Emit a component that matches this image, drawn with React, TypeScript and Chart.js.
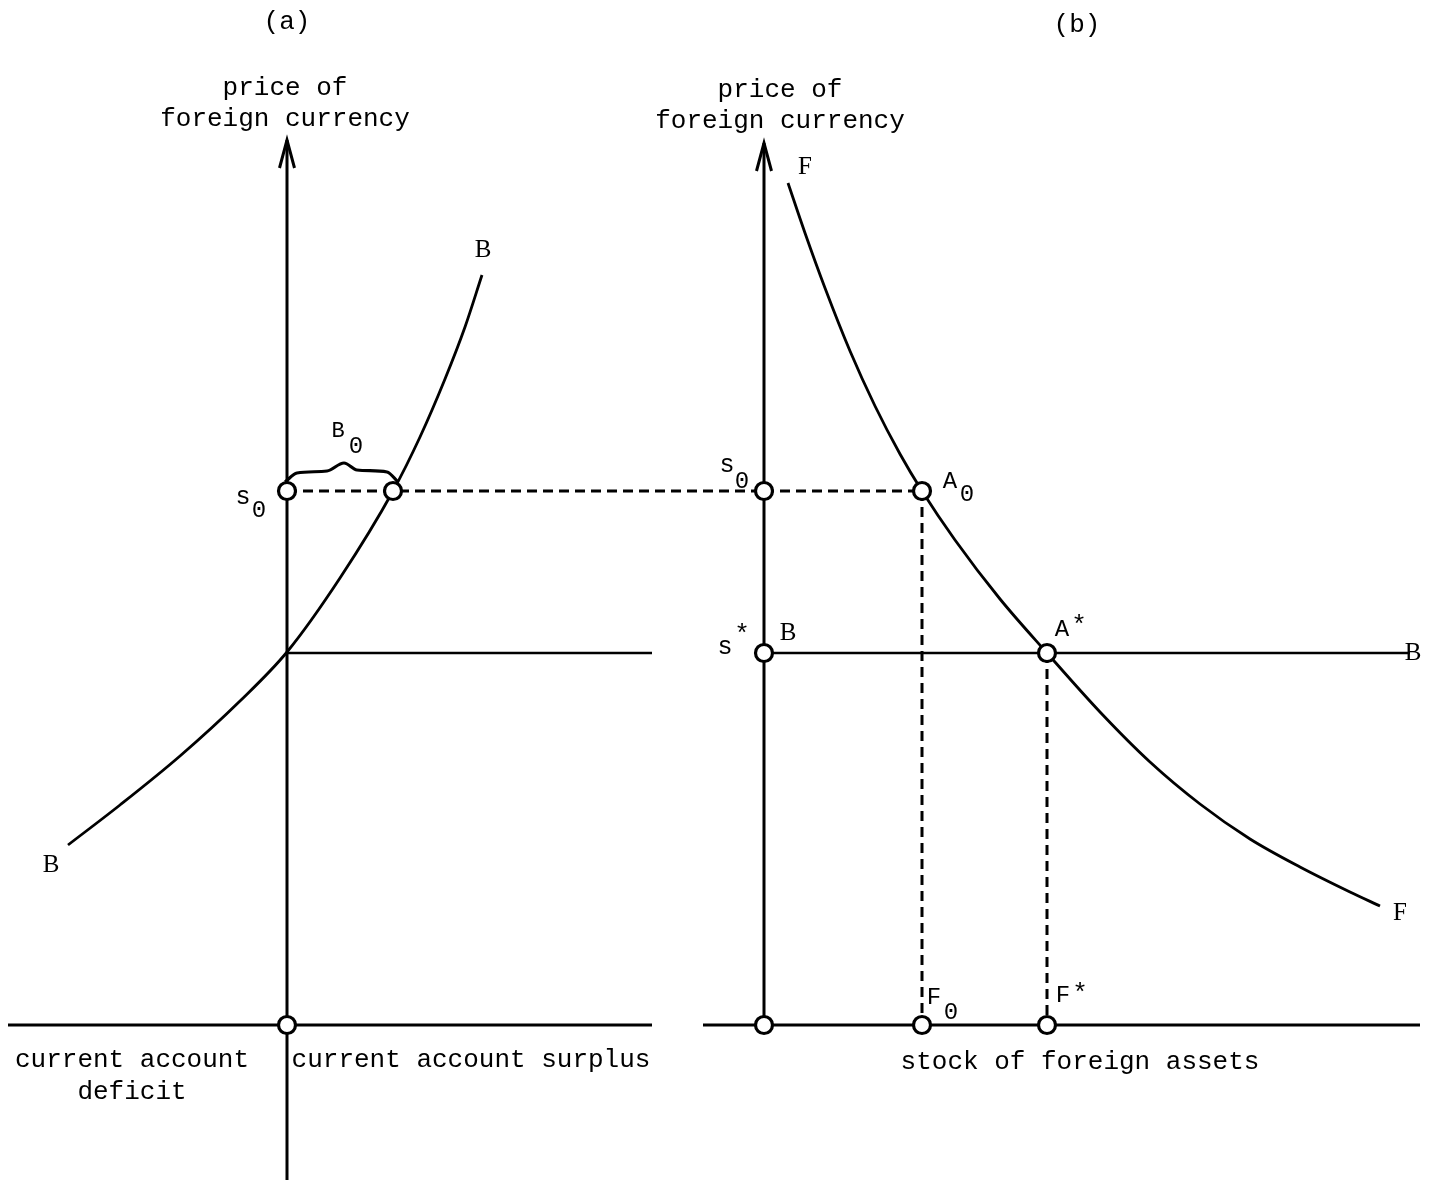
import React, { useEffect, useRef } from "react";
import { Chart, registerables } from "chart.js";

Chart.register(...registerables);

// ---- values (diagram units: price of foreign currency on y, quantities on x) ----
const S0 = 5.34; // initial price of foreign currency s0
const S_STAR = 3.72; // stationary price s*
const B0 = 1.06; // current account surplus at s0
const F0 = 1.58; // initial stock of foreign assets
const F_STAR = 2.83; // stationary stock of foreign assets
const B_AXIS_OFFSET = 4.77; // panel (b) price axis, expressed on panel (a) scale

// Panel (a): current account balance curve B
const B_CURVE_CA = [-2.19, -1.67, -1.07, -0.47, 0, 0.53, 1.06, 1.33, 1.58, 1.78, 1.95];
const B_CURVE_PRICE = [1.8, 2.2, 2.69, 3.24, 3.73, 4.47, 5.34, 5.88, 6.46, 6.98, 7.5];

// Brace marking B0
const BRACE_CA = [-0.02, 0.1, 0.4, 0.57, 0.7, 1.0, 1.11];
const BRACE_PRICE = [5.43, 5.52, 5.54, 5.62, 5.55, 5.53, 5.43];

// Panel (b): asset market curve F
const F_CURVE_STOCK = [0.24, 0.41, 0.61, 0.86, 1.11, 1.36, 1.58, 1.91, 2.36, 2.83, 3.36, 3.86, 4.36, 4.86, 5.36, 5.86, 6.16];
const F_CURVE_PRICE = [8.42, 7.92, 7.37, 6.74, 6.19, 5.71, 5.34, 4.85, 4.26, 3.72, 3.13, 2.63, 2.21, 1.86, 1.58, 1.33, 1.19];

// Axis extents
const A_HORIZ = [-2.79, 3.65];
const A_VERT = [-1.55, 8.85];
const A_SSTAR_LINE = [0, 3.65];
const B_HORIZ = [-0.61, 6.56];
const B_VERT = [0, 8.82];
const B_LINE = [0, 6.46];
const ARROW_HALF = 0.075;
const ARROW_DROP = 0.28;

// Marked points
const A_POINTS_X = [0, B0, 0];
const A_POINTS_Y = [S0, S0, 0];
const B_POINTS_X = [0, F0, 0, F_STAR, 0, F0, F_STAR];
const B_POINTS_Y = [S0, S0, S_STAR, S_STAR, 0, 0, 0];

// Scale ranges
const XA_RANGE = [-2.87, 11.5];
const XB_RANGE = [-7.64, 6.73];
const Y_RANGE = [-1.58, 10.25];

const MONO = '"Liberation Mono", "DejaVu Sans Mono", monospace';
const SERIF = '"Liberation Serif", "DejaVu Serif", serif';

type Label = { axis: "xA" | "xB"; x: number; y: number; text: string; font: string };

const LABELS: Label[] = [
  { axis: "xA", x: 0, y: 10.03, text: "(a)", font: `26px ${MONO}` },
  { axis: "xB", x: 3.13, y: 10.0, text: "(b)", font: `26px ${MONO}` },
  { axis: "xA", x: -0.02, y: 9.37, text: "price of", font: `26px ${MONO}` },
  { axis: "xA", x: -0.02, y: 9.06, text: "foreign currency", font: `26px ${MONO}` },
  { axis: "xB", x: 0.16, y: 9.35, text: "price of", font: `26px ${MONO}` },
  { axis: "xB", x: 0.16, y: 9.04, text: "foreign currency", font: `26px ${MONO}` },
  { axis: "xA", x: 1.96, y: 7.75, text: "B", font: `25px ${SERIF}` },
  { axis: "xA", x: -2.36, y: 1.6, text: "B", font: `25px ${SERIF}` },
  { axis: "xA", x: 0.51, y: 5.94, text: "B", font: `22px ${MONO}` },
  { axis: "xA", x: 0.69, y: 5.78, text: "0", font: `24px ${MONO}` },
  { axis: "xA", x: -0.44, y: 5.28, text: "s", font: `25px ${MONO}` },
  { axis: "xA", x: -0.28, y: 5.14, text: "0", font: `24px ${MONO}` },
  { axis: "xA", x: -1.55, y: -0.35, text: "current account", font: `26px ${MONO}` },
  { axis: "xA", x: -1.55, y: -0.67, text: "deficit", font: `26px ${MONO}` },
  { axis: "xA", x: 1.84, y: -0.35, text: "current account surplus", font: `26px ${MONO}` },
  { axis: "xB", x: -0.37, y: 5.6, text: "s", font: `25px ${MONO}` },
  { axis: "xB", x: -0.22, y: 5.43, text: "0", font: `24px ${MONO}` },
  { axis: "xB", x: 1.86, y: 5.43, text: "A", font: `24px ${MONO}` },
  { axis: "xB", x: 2.03, y: 5.3, text: "0", font: `24px ${MONO}` },
  { axis: "xB", x: -0.39, y: 3.78, text: "s", font: `25px ${MONO}` },
  { axis: "xB", x: -0.22, y: 3.9, text: "*", font: `26px ${MONO}` },
  { axis: "xB", x: 0.24, y: 3.92, text: "B", font: `25px ${SERIF}` },
  { axis: "xB", x: 2.98, y: 3.95, text: "A", font: `24px ${MONO}` },
  { axis: "xB", x: 3.15, y: 3.99, text: "*", font: `26px ${MONO}` },
  { axis: "xB", x: 6.49, y: 3.72, text: "B", font: `25px ${SERIF}` },
  { axis: "xB", x: 6.36, y: 1.12, text: "F", font: `25px ${SERIF}` },
  { axis: "xB", x: 0.41, y: 8.58, text: "F", font: `25px ${SERIF}` },
  { axis: "xB", x: 1.7, y: 0.27, text: "F", font: `24px ${MONO}` },
  { axis: "xB", x: 1.87, y: 0.12, text: "0", font: `24px ${MONO}` },
  { axis: "xB", x: 2.99, y: 0.29, text: "F", font: `24px ${MONO}` },
  { axis: "xB", x: 3.16, y: 0.31, text: "*", font: `26px ${MONO}` },
  { axis: "xB", x: 3.16, y: -0.37, text: "stock of foreign assets", font: `26px ${MONO}` },
];

const zip = (xs: number[], ys: number[]) => xs.map((x, i) => ({ x, y: ys[i] }));

const line = (axis: string, data: { x: number; y: number }[], extra: any = {}) => ({
  type: "line" as const,
  xAxisID: axis,
  yAxisID: "y",
  data,
  showLine: true,
  borderColor: "#000",
  backgroundColor: "#000",
  borderWidth: 3,
  pointRadius: 0,
  fill: false,
  tension: 0,
  order: 2,
  clip: false as any,
  ...extra,
});

const labelPlugin = {
  id: "diagramLabels",
  afterDatasetsDraw(chart: any) {
    const ctx = chart.ctx;
    const yScale = chart.scales.y;
    ctx.save();
    ctx.fillStyle = "#000";
    ctx.textAlign = "center";
    ctx.textBaseline = "middle";
    for (const l of LABELS) {
      const xs = chart.scales[l.axis];
      ctx.font = l.font;
      ctx.fillText(l.text, xs.getPixelForValue(l.x), yScale.getPixelForValue(l.y));
    }
    ctx.restore();
  },
};

export default function App() {
  const ref = useRef<HTMLCanvasElement>(null);
  useEffect(() => {
    if (!ref.current) return;
    const datasets: any[] = [
      // marked points (drawn on top)
      {
        type: "scatter",
        xAxisID: "xA",
        yAxisID: "y",
        data: zip(A_POINTS_X, A_POINTS_Y),
        pointRadius: 8.5,
        pointBorderWidth: 3.2,
        pointBackgroundColor: "#fff",
        pointBorderColor: "#000",
        showLine: false,
        order: 0,
        clip: false,
      },
      {
        type: "scatter",
        xAxisID: "xB",
        yAxisID: "y",
        data: zip(B_POINTS_X, B_POINTS_Y),
        pointRadius: 8.5,
        pointBorderWidth: 3.2,
        pointBackgroundColor: "#fff",
        pointBorderColor: "#000",
        showLine: false,
        order: 0,
        clip: false,
      },
      // panel (a)
      line("xA", [{ x: A_HORIZ[0], y: 0 }, { x: A_HORIZ[1], y: 0 }]),
      line("xA", [{ x: 0, y: A_VERT[0] }, { x: 0, y: A_VERT[1] }]),
      line("xA", [
        { x: -ARROW_HALF, y: A_VERT[1] - ARROW_DROP },
        { x: 0, y: A_VERT[1] },
        { x: ARROW_HALF, y: A_VERT[1] - ARROW_DROP },
      ]),
      line("xA", [{ x: A_SSTAR_LINE[0], y: S_STAR }, { x: A_SSTAR_LINE[1], y: S_STAR }], { borderWidth: 2.5 }),
      line("xA", zip(B_CURVE_CA, B_CURVE_PRICE), { cubicInterpolationMode: "monotone", borderWidth: 2.8 }),
      line("xA", zip(BRACE_CA, BRACE_PRICE), { cubicInterpolationMode: "monotone", borderWidth: 3.2 }),
      line("xA", [{ x: 0, y: S0 }, { x: B_AXIS_OFFSET, y: S0 }], { borderDash: [10, 6] }),
      // panel (b)
      line("xB", [{ x: B_HORIZ[0], y: 0 }, { x: B_HORIZ[1], y: 0 }]),
      line("xB", [{ x: 0, y: B_VERT[0] }, { x: 0, y: B_VERT[1] }]),
      line("xB", [
        { x: -ARROW_HALF, y: B_VERT[1] - ARROW_DROP },
        { x: 0, y: B_VERT[1] },
        { x: ARROW_HALF, y: B_VERT[1] - ARROW_DROP },
      ]),
      line("xB", [{ x: B_LINE[0], y: S_STAR }, { x: B_LINE[1], y: S_STAR }], { borderWidth: 2.5 }),
      line("xB", zip(F_CURVE_STOCK, F_CURVE_PRICE), { cubicInterpolationMode: "monotone", borderWidth: 2.8 }),
      line("xB", [{ x: 0, y: S0 }, { x: F0, y: S0 }], { borderDash: [10, 6] }),
      line("xB", [{ x: F0, y: S0 }, { x: F0, y: 0 }], { borderDash: [10, 6] }),
      line("xB", [{ x: F_STAR, y: S_STAR }, { x: F_STAR, y: 0 }], { borderDash: [10, 6] }),
    ];

    const chart = new Chart(ref.current, {
      type: "scatter",
      data: { datasets },
      options: {
        animation: false,
        responsive: true,
        maintainAspectRatio: false,
        events: [],
        layout: { padding: 0, autoPadding: false },
        plugins: { legend: { display: false }, tooltip: { enabled: false } },
        scales: {
          xA: { type: "linear", axis: "x", position: "bottom", display: false, min: XA_RANGE[0], max: XA_RANGE[1] },
          xB: { type: "linear", axis: "x", position: "bottom", display: false, min: XB_RANGE[0], max: XB_RANGE[1] },
          y: { type: "linear", display: false, min: Y_RANGE[0], max: Y_RANGE[1] },
        },
      } as any,
      plugins: [labelPlugin],
    });
    return () => chart.destroy();
  }, []);

  return (
    <div style={{ position: "fixed", left: 0, top: 0, width: "1437px", height: "1183px", background: "#fff" }}>
      <canvas ref={ref} />
    </div>
  );
}
